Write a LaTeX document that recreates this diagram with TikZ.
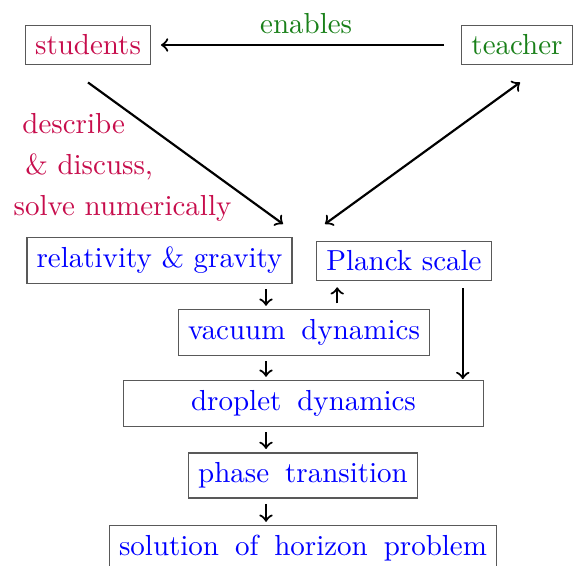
\documentclass[tikz,border=0pt]{standalone}
\usetikzlibrary{positioning}
\definecolor{crimson}{rgb}{0.78,0.05,0.30}
\definecolor{dkgreen}{rgb}{0.10,0.50,0.10}
\newcommand{\wsp}{\hspace{5.5pt}}
\begin{document}
\begin{tikzpicture}[x=0.345pt,y=-0.345pt,line width=0.75pt,
    box/.style={rectangle,draw=black!65,line width=0.4pt}]
  \useasboundingbox (0,0) rectangle (575,565);
  \node (students) [box,text=crimson] at (88,45) {students};
  \node (teacher) [box,text=dkgreen] at (517,45) {teacher};
  \node (task) [text=crimson,align=left,anchor=north west] at (3,103)
    {\hspace{3pt}describe\\[2pt]\hspace{4pt}\& discuss,\\[2pt]solve numerically};
  \node (gravity) [box,text=blue] at (159.5,260.5) {relativity \& gravity};
  \node (planck) [box,text=blue] at (404,261) {Planck scale};
  \node (vacuum) [box,text=blue] at (304,332.5) {vacuum\wsp dynamics};
  \node (droplet) [box,text=blue,minimum width=124pt] at (303.5,403.5) {droplet\wsp dynamics};
  \node (phase) [box,text=blue] at (303,475.5) {phase\wsp transition};
  \node (horizon) [box,text=blue] at (303,548.5) {solution\wsp of\wsp horizon\wsp problem};
  \coordinate (col) at (266,0);
  \coordinate (sdown) at (283,224);
  \coordinate (tdown) at (325,224);
  \draw [->,shorten <=5.9pt,shorten >=3.4pt] (teacher) -- (students) node [above,midway,text=dkgreen] {enables};
  \draw [->] ([shift={(0,17)}]students.south) -- (sdown);
  \draw [<->] (tdown) -- ([shift={(3,17)}]teacher.south);
  \draw [->,shorten <=1.8pt,shorten >=1.2pt] (gravity.south -| col) -- (vacuum.north -| col);
  \draw [->,shorten <=1.8pt,shorten >=1.2pt] (vacuum.south -| col) -- (droplet.north -| col);
  \draw [->,shorten <=1.8pt,shorten >=1.2pt] (droplet.south -| col) -- (phase.north -| col);
  \draw [->,shorten <=1.8pt,shorten >=1.2pt] (phase.south -| col) -- (horizon.north -| col);
  \draw [->,shorten <=2pt,shorten >=2pt] (vacuum.north -| planck.south west) ++(21,0) coordinate (up) (up) -- (up |- planck.south);
  \draw [->,shorten <=2.4pt,shorten >=0.4pt] (planck.south east) ++(-29,0) coordinate (pd) (pd) -- (pd |- droplet.north);
\end{tikzpicture}
\end{document}
